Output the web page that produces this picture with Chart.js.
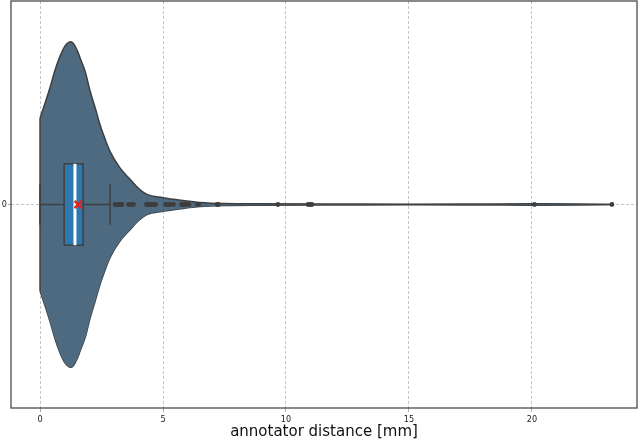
<!DOCTYPE html>
<html>
<head>
<meta charset="utf-8">
<script src="https://cdn.jsdelivr.net/npm/chart.js@4"></script>
<style>
  body { margin: 0; background: #fff; }
  #wrap { width: 640px; height: 442px; }
</style>
</head>
<body>
<div id="wrap"><canvas id="myChart"></canvas></div>
<script>
// violin profile (relative density, peak = 1)
var densityX = [0, 0.2, 0.41, 0.6, 0.81, 1.0, 1.15, 1.25, 1.35, 1.5, 1.63, 1.85, 2.03, 2.25, 2.44, 2.65, 2.85,
                3.25, 3.66, 4.0, 4.35, 5.0, 5.8, 6.5, 7.5, 9, 12, 15, 18, 20, 22, 23.3];
var densityY = [0.53, 0.62, 0.72, 0.82, 0.91, 0.97, 0.995, 1.0, 0.99, 0.95, 0.9, 0.81, 0.7, 0.59, 0.49, 0.4, 0.325,
                0.225, 0.155, 0.1, 0.062, 0.042, 0.025, 0.013, 0.006, 0.004, 0.003, 0.002, 0.003, 0.004, 0.003, 0];

// box stats
var whiskerLow = 0;
var q1 = 0.98;
var median = 1.42;
var q3 = 1.75;
var whiskerHigh = 2.85;
var mean = 1.55;

var outliers = [3.05, 3.12, 3.2, 3.28, 3.33, 3.6, 3.7, 3.8, 4.33, 4.4, 4.48, 4.55, 4.62, 4.7,
                5.1, 5.2, 5.3, 5.43, 5.75, 5.85, 5.95, 6.05, 6.4, 6.45, 7.2, 7.25,
                9.67, 10.9, 11.0, 11.05, 20.1, 23.25];

var xTicks = [0, 5, 10, 15, 20];
var yTicks = [0];
var xTitle = 'annotator distance [mm]';

var violinHalf = 0.4;  // half width of violin in category units
var boxHalf = 0.1;
var capHalf = 0.05;
var edge = '#3f3f3f';

var upper = densityX.map(function (x, i) { return { x: x, y: densityY[i] * violinHalf }; });
var lower = densityX.map(function (x, i) { return { x: x, y: -densityY[i] * violinHalf }; });

function seg(x1, y1, x2, y2) { return [{ x: x1, y: y1 }, { x: x2, y: y2 }]; }

var frame = {
    id: 'frame',
    afterDraw: function (chart) {
        var a = chart.chartArea, c = chart.ctx;
        c.save();
        c.strokeStyle = '#4a4a4a';
        c.lineWidth = 1.3;
        c.strokeRect(a.left, a.top, a.right - a.left, a.bottom - a.top);
        c.restore();
    }
};

var lineBase = { showLine: true, pointRadius: 0, fill: false, tension: 0, borderColor: edge, borderWidth: 1.5 };

new Chart(document.getElementById('myChart').getContext('2d'), {
    type: 'scatter',
    data: {
        datasets: [
            { label: 'mean', data: [{ x: mean, y: 0 }], pointStyle: 'crossRot', pointRadius: 5,
              borderColor: '#e8201c', backgroundColor: '#e8201c', pointBorderWidth: 2.5, order: 0 },
            { label: 'outliers', data: outliers.map(function (v) { return { x: v, y: 0 }; }),
              pointRadius: 2.4, backgroundColor: '#3d3d3d', borderColor: '#3d3d3d', borderWidth: 0, order: 1 },
            Object.assign({}, lineBase, { data: seg(median, -boxHalf, median, boxHalf), borderColor: '#ffffff', borderWidth: 3, order: 2 }),
            Object.assign({}, lineBase, { data: [{ x: q1, y: -boxHalf }, { x: q1, y: boxHalf }, { x: q3, y: boxHalf }, { x: q3, y: -boxHalf }, { x: q1, y: -boxHalf }],
              fill: 'shape', backgroundColor: '#2e78b0', order: 3 }),
            Object.assign({}, lineBase, { data: seg(whiskerLow, 0, q1, 0), order: 4 }),
            Object.assign({}, lineBase, { data: seg(q3, 0, whiskerHigh, 0), order: 4 }),
            Object.assign({}, lineBase, { data: seg(whiskerLow, -capHalf, whiskerLow, capHalf), order: 4 }),
            Object.assign({}, lineBase, { data: seg(whiskerHigh, -capHalf, whiskerHigh, capHalf), order: 4 }),
            Object.assign({}, lineBase, { data: seg(densityX[0], -densityY[0] * violinHalf, densityX[0], densityY[0] * violinHalf), order: 5 }),
            Object.assign({}, lineBase, { data: upper, fill: '+1', backgroundColor: '#4e6a80', cubicInterpolationMode: 'monotone', order: 6 }),
            Object.assign({}, lineBase, { data: lower, cubicInterpolationMode: 'monotone', order: 7 })
        ]
    },
    options: {
        responsive: true,
        maintainAspectRatio: false,
        animation: false,
        layout: { autoPadding: false, padding: { top: 1, right: 3, left: 0, bottom: 0 } },
        plugins: { legend: { display: false }, tooltip: { enabled: false } },
        scales: {
            x: {
                type: 'linear',
                min: -1.18,
                max: 24.27,
                afterBuildTicks: function (s) { s.ticks = xTicks.map(function (v) { return { value: v }; }); },
                afterFit: function (s) { s.height = 34; s.paddingLeft = 0; s.paddingRight = 0; },
                grid: { color: '#c4c4c4', tickLength: 4, tickColor: '#aaaaaa' },
                border: { display: false, dash: [3, 2] },
                ticks: { color: '#222', padding: 2, font: { family: 'DejaVu Sans Condensed', size: 9 } },
                title: { display: true, text: xTitle, color: '#111', padding: { top: 0, bottom: 1 },
                         font: { family: 'DejaVu Sans', size: 15 } }
            },
            y: {
                type: 'linear',
                min: -0.5,
                max: 0.5,
                afterBuildTicks: function (s) { s.ticks = yTicks.map(function (v) { return { value: v }; }); },
                afterFit: function (s) { s.width = 11; s.paddingTop = 0; s.paddingBottom = 0; },
                grid: { color: '#c4c4c4', tickLength: 3, tickColor: '#aaaaaa' },
                border: { display: false, dash: [3, 2] },
                ticks: { color: '#222', padding: 1, font: { family: 'DejaVu Sans Condensed', size: 9 } }
            }
        }
    },
    plugins: [frame]
});
</script>
</body>
</html>
